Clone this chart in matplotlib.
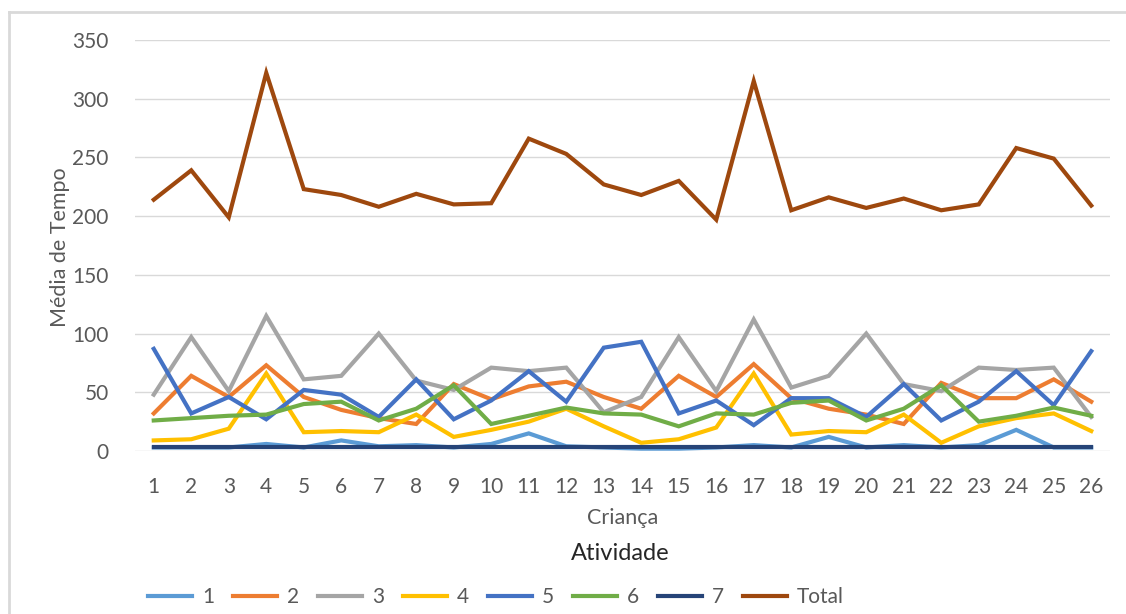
import matplotlib.pyplot as plt
import numpy as np
from matplotlib.lines import Line2D

plt.rcParams['font.family'] = ['Lato', 'DejaVu Sans']

criancas = list(range(1, 27))

at1 = [3, 3, 3, 6, 3, 9, 4, 5, 3, 6, 15, 4, 3, 2, 2, 3, 5, 3, 12, 3, 5, 3, 5, 18, 3, 3]
at2 = [32, 64, 46, 73, 46, 35, 28, 23, 57, 44, 55, 59, 46, 36, 64, 46, 74, 45, 36, 31, 23, 58, 45, 45, 61, 42]
at3 = [48, 97, 51, 115, 61, 64, 100, 60, 52, 71, 68, 71, 33, 46, 97, 51, 112, 54, 64, 100, 57, 51, 71, 69, 71, 29]
at4 = [9, 10, 19, 66, 16, 17, 16, 31, 12, 18, 25, 36, 21, 7, 10, 20, 66, 14, 17, 16, 31, 7, 21, 28, 32, 17]
at5 = [87, 32, 46, 27, 52, 48, 29, 61, 27, 43, 68, 42, 88, 93, 32, 43, 22, 45, 45, 29, 57, 26, 42, 68, 39, 85]
at6 = [26, 28, 30, 31, 40, 42, 26, 36, 56, 23, 30, 37, 32, 31, 21, 32, 31, 41, 43, 26, 36, 56, 25, 30, 37, 30]
at7 = [3.5] * 26
total = [214, 239, 199, 322, 223, 218, 208, 219, 210, 211, 266, 253, 227, 218, 230, 197, 315, 205, 216, 207, 215, 205, 210, 258, 249, 209]

series = [at1, at2, at3, at4, at5, at6, at7, total]
nomes = ['1', '2', '3', '4', '5', '6', '7', 'Total']
cores = ['#5B9BD5', '#ED7D31', '#A5A5A5', '#FFC000', '#4472C4', '#70AD47', '#264478', '#9E480E']

cinza = '#595959'

fig = plt.figure(figsize=(11.26, 6.14), dpi=100)
ax = fig.add_axes([135/1126, 1 - 451/614, 975/1126, 411/614])

for y, nome, cor in zip(series, nomes, cores):
    ax.plot(criancas, y, color=cor, lw=3, label=nome, solid_joinstyle='miter')

ax.set_xlim(0.5, 26.5)
ax.set_ylim(0, 350)
ax.set_xticks(criancas)
ax.set_yticks(np.arange(0, 351, 50))
ax.tick_params(axis='both', length=0, labelsize=15, labelcolor=cinza)
ax.tick_params(axis='y', pad=19)
ax.tick_params(axis='x', pad=19)
ax.grid(axis='y', color='#d9d9d9', lw=1)
ax.set_axisbelow(True)
for s in ax.spines.values():
    s.set_visible(False)

fig.text(623/1126, 1 - 518/614, 'Criança', ha='center', va='center', fontsize=15.5, color=cinza)
fig.text(60/1126, 1 - 247/614, 'Média de Tempo', ha='center', va='center', rotation=90, fontsize=15.5, color=cinza)
fig.text(620/1126, 1 - 553/614, 'Atividade', ha='center', va='center', fontsize=17, color='#262626')

fig.legend(loc='center', bbox_to_anchor=(496/1126, 1 - 597/614), ncol=8, frameon=False,
           fontsize=15, labelcolor=cinza, handlelength=2.1, handletextpad=0.5,
           columnspacing=0.9)

# moldura cinza do print
fig.add_artist(Line2D([9/1126, 9/1126], [0, 1 - 12/614], transform=fig.transFigure, color='#d9d9d9', lw=2))
fig.add_artist(Line2D([9/1126, 1], [1 - 12/614, 1 - 12/614], transform=fig.transFigure, color='#d9d9d9', lw=2))

fig.savefig('out.png', dpi=100)
